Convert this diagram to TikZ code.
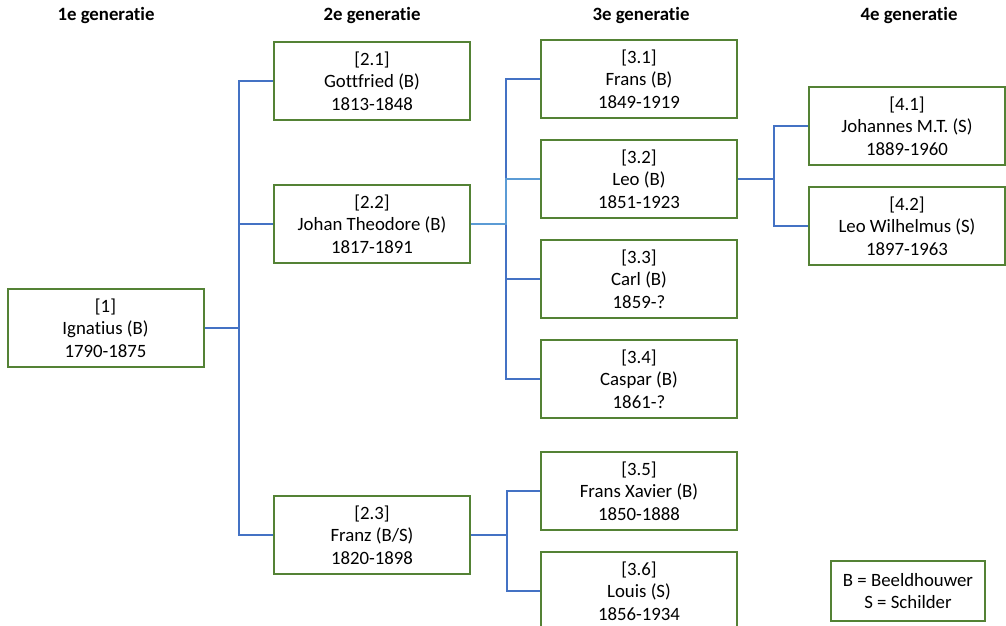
\documentclass[tikz,border=0pt]{standalone}
\usepackage{fontspec}
\setmainfont{Carlito}[Ligatures={NoCommon}]
\definecolor{boxgreen}{HTML}{548235}
\definecolor{lineblue}{HTML}{4472C4}
\definecolor{lightblue}{HTML}{5B9BD5}
\tikzset{
  person/.style={draw=boxgreen, line width=2pt, align=center, minimum width=196pt,
    minimum height=78pt, inner sep=0pt, text depth=0pt, font=\fontsize{18.8}{22.5}\selectfont},
  header/.style={font=\fontsize{18.8}{22}\selectfont\bfseries},
  link/.style={draw=lineblue, line width=2pt},
}
\begin{document}
\begin{tikzpicture}[x=1pt,y=-1pt]
\clip (0,0) rectangle (1006,626);
% generations
\node[header] (g1) at (106,15) {1e generatie};
\node[header] (g2) at (372,15) {2e generatie};
\node[header] (g3) at (641,15) {3e generatie};
\node[header] (g4) at (909,15) {4e generatie};
% persons
\node[person] (p1) at (105.5,328) {[1]\\Ignatius (B)\\1790-1875};
\node[person] (p21) at (372,81) {[2.1]\\Gottfried (B)\\1813-1848};
\node[person] (p22) at (372,224) {[2.2]\\Johan Theodore (B)\\1817-1891};
\node[person] (p23) at (372,535) {[2.3]\\Franz (B/S)\\1820-1898};
\node[person] (p31) at (639,79) {[3.1]\\Frans (B)\\1849-1919};
\node[person] (p32) at (639,179) {[3.2]\\Leo (B)\\1851-1923};
\node[person] (p33) at (639,279) {[3.3]\\Carl (B)\\1859-?};
\node[person] (p34) at (639,379) {[3.4]\\Caspar (B)\\1861-?};
\node[person] (p35) at (639,491) {[3.5]\\Frans Xavier (B)\\1850-1888};
\node[person] (p36) at (639,591) {[3.6]\\Louis (S)\\1856-1934};
\node[person] (p41) at (907,126) {[4.1]\\Johannes M.T. (S)\\1889-1960};
\node[person] (p42) at (907,226) {[4.2]\\Leo Wilhelmus (S)\\1897-1963};
% legend
\node[person, minimum width=154pt, minimum height=60pt] (legend) at (908,591) {B = Beeldhouwer\\S = Schilder};
% lines
\foreach \t in {p21,p22,p23} \draw[link] (p1.east) -- ++(34,0) |- (\t.west);
\foreach \t in {p31,p33,p34} \draw[link] (p22.east) -- ++(35,0) |- (\t.west);
\draw[link, draw=lightblue] (p22.east) -- ++(35,0) |- (p32.west);
\foreach \t in {p35,p36} \draw[link] (p23.east) -- ++(36,0) |- (\t.west);
\foreach \t in {p41,p42} \draw[link] (p32.east) -- ++(36,0) |- (\t.west);
\end{tikzpicture}
\end{document}
